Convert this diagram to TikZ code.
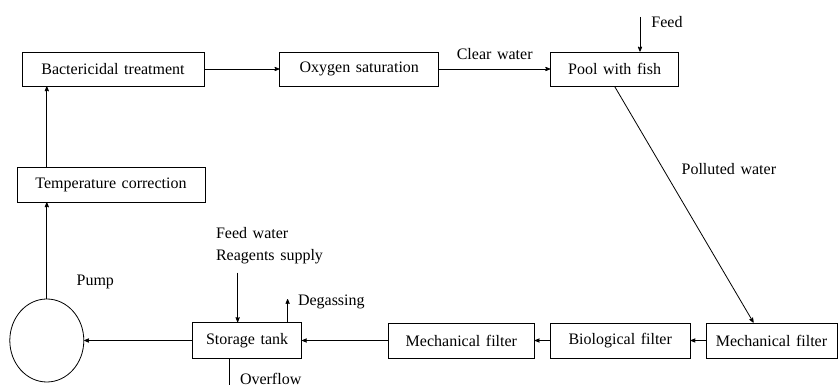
\documentclass[tikz,border=0pt]{standalone}
\usepackage{fontspec}
\setmainfont[WordSpace=1.4]{Liberation Serif}
\usetikzlibrary{arrows,positioning,shapes.geometric}

\begin{document}
\begin{tikzpicture}[->,>=stealth',x=1pt,y=1pt,line width=0.8pt,
  font=\fontsize{16}{22}\selectfont]
  \tikzstyle{block}=[draw=black,rectangle,minimum height=34pt,inner sep=2pt]
  \tikzstyle{lbl}=[inner sep=0pt]
  \useasboundingbox (0,0) rectangle (838,385);

  % top row
  \node[block,minimum width=182pt] (bact) at (113,316) {Bactericidal treatment};
  \node[block,minimum width=159pt] (oxy)  [right=75pt of bact] {Oxygen saturation};
  \node[block,minimum width=128pt] (pool) [right=111pt of oxy] {Pool with fish};
  \node[block,minimum width=188pt,minimum height=35pt] (temp) at (111,200.5) {Temperature correction};

  % bottom row
  \node[block,minimum width=131pt,minimum height=35pt] (mf1) at (771.5,44.5) {Mechanical filter};
  \node[block,minimum width=140pt,minimum height=35pt] (bio) [left=15pt of mf1] {Biological filter};
  \node[block,minimum width=146pt,minimum height=35pt] (mf2) [left=15pt of bio] {Mechanical filter};
  \node[block,minimum width=109pt,minimum height=36pt] (tank) [left=86pt of mf2] {Storage tank};
  \node[draw=black,ellipse,minimum width=74pt,minimum height=83pt,inner sep=0pt] (pump) [left=108pt of tank] {};
  \node[lbl] (pumplbl) [above right=22pt and 3pt of pump] {Pump};

  \node[lbl,align=left] (supply) at (269.5,139) {Feed water\\Reagents supply};
  \coordinate (supin) at ([shift={(22pt,-8pt)}]supply.south west);
  \coordinate (feedin) at (640,368);
  \coordinate (gasout) at ([xshift=40.5pt]tank.north);
  \coordinate (ovout) at ([xshift=-17.5pt]tank.south);

  \path
  (bact) edge (oxy)
  (oxy) edge node[lbl,above=9pt] {Clear water} (pool)
  (mf1) edge (bio)
  (bio) edge (mf2)
  (mf2) edge (tank)
  (tank) edge (pump)
  (pump) edge (temp.south -| pump)
  (temp.north -| pump) edge (bact.south -| pump);

  \draw (feedin) -- node[lbl,right=11pt,pos=0.14] {Feed} (feedin |- pool.north);
  \draw (pool.south) -- node[lbl,right=18pt,pos=0.35] {Polluted water} ([xshift=-18pt]mf1.north);
  \draw (supin) -- (supin |- tank.north);
  \draw (gasout) -- ++(0,23) node[lbl,right=10pt,yshift=-3pt] {Degassing};
  \draw (ovout) -- ++(0,-31) node[lbl,anchor=base west,xshift=10pt,yshift=5pt] {Overflow};
\end{tikzpicture}
\end{document}
